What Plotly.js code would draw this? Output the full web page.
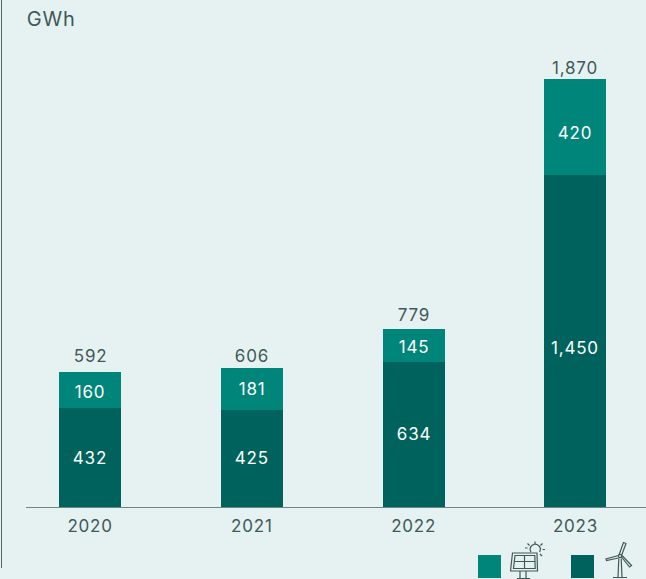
<!DOCTYPE html>
<html>
<head>
<meta charset="utf-8">
<script src="https://cdn.plot.ly/plotly-3.0.1.min.js"></script>
<style>
html,body{margin:0;padding:0;background:#E6F2F2;overflow:hidden}
#chart text{letter-spacing:.8px}
</style>
</head>
<body>
<div id="chart" style="width:646px;height:579px"></div>
<script>
// Annual generation by source, GWh
const years = ['2020', '2021', '2022', '2023'];
const wind = [432, 425, 634, 1450];
const solar = [160, 181, 145, 420];
const totals = [592, 606, 779, 1870];
const unit = 'GWh';
// Small vertical offsets (px, positive = up) for the value labels
const windNudge = [0, 0, 0, -7];
const solarNudge = [-2, 0, -2, -6];
const totalNudge = [16, 12, 14, 11];

const WIDTH = 646, HEIGHT = 579;
const COL_SOLAR = '#00857A', COL_WIND = '#00625C', COL_TEXT = '#3F5957', COL_BG = '#E6F2F2';
const FONT = 'Inter, "Noto Sans", sans-serif';
const SIZE = 17;

const solarIcon = `<svg xmlns="http://www.w3.org/2000/svg" width="50" height="40" viewBox="0 0 50 40" fill="none" stroke="#3F5957" stroke-width="1.2">
<path d="M2.5 12H27L27.5 30H0.5Z"/><path d="M5 14.5H24.8L25.2 27.5H3.5Z"/>
<path d="M4.5 20.5H25M14.5 14.5V27.5"/><path d="M10 30V37M16 30V37M7 37.5H20"/>
<path d="M21 11A5 5 0 1 1 29.5 11"/><path d="M25 0.5V3M17.5 2.5L19.5 4.5M32.5 2.5L30.5 4.5M35 8.5H32.5M15 7H17.5M32 15L30 13"/>
</svg>`;
const windIcon = `<svg xmlns="http://www.w3.org/2000/svg" width="30" height="40" viewBox="0 0 30 40" fill="none" stroke="#3F5957" stroke-width="1.2">
<circle cx="16" cy="16" r="1.6"/><path d="M15 15L19.5 2.5L22 3.5L17.5 15.5"/>
<path d="M14.5 15.5L2 19L2.5 20.5L14.5 18"/><path d="M17.5 17L25.5 27L27.5 25.5L18 15.5"/>
<path d="M14.8 18.5L14 37.5M17.2 18.5L18 37.5M9 37.5H23"/>
</svg>`;
const dataUri = s => 'data:image/svg+xml;base64,' + btoa(s);

// Page pixels to paper fractions, for furniture outside the axes
const MARGIN_L = 26, MARGIN_B = 72;
const plotW = WIDTH - MARGIN_L, plotH = HEIGHT - MARGIN_B;
const fx = x => (x - MARGIN_L) / plotW;
const fy = y => (plotH - y) / plotH;
const fmt = v => v.toLocaleString('en-US');

const swatch = (x0, color) => ({
  type: 'rect', xref: 'paper', yref: 'paper', layer: 'above',
  x0: fx(x0), x1: fx(x0 + 23), y0: fy(578), y1: fy(555),
  fillcolor: color, line: {width: 0}
});

const segment = (name, values, color) => ({
  type: 'bar', name, x: years, y: values, width: 0.383,
  marker: {color, line: {width: 0}}, hoverinfo: 'skip'
});

const traces = [segment('Wind', wind, COL_WIND), segment('Solar', solar, COL_SOLAR)];

// Annotations on a category axis are placed by category index
const insideLabels = years.flatMap((yr, i) => [
  {x: i, y: wind[i] / 2, text: fmt(wind[i]), yshift: windNudge[i]},
  {x: i, y: wind[i] + solar[i] / 2, text: fmt(solar[i]), yshift: solarNudge[i]}
]).map(a => ({...a, xref: 'x', yref: 'y', showarrow: false, xanchor: 'center', yanchor: 'middle',
  font: {family: FONT, size: SIZE, color: '#FFFFFF'}}));

const totalLabels = years.map((yr, i) => ({
  x: i, y: totals[i], xref: 'x', yref: 'y', text: fmt(totals[i]), showarrow: false,
  xanchor: 'center', yanchor: 'middle', yshift: totalNudge[i],
  font: {family: FONT, size: SIZE, color: COL_TEXT}
}));

const layout = {
  width: WIDTH, height: HEIGHT,
  margin: {l: MARGIN_L, r: 0, t: 0, b: MARGIN_B, pad: 0},
  paper_bgcolor: COL_BG, plot_bgcolor: COL_BG,
  barmode: 'stack', showlegend: false,
  font: {family: FONT, color: COL_TEXT},
  xaxis: {
    type: 'category', categoryorder: 'array', categoryarray: years,
    range: [-0.396, 3.436], showgrid: false, zeroline: false,
    showline: true, linecolor: '#6F8583', linewidth: 1,
    ticks: '', ticklen: 0, ticklabelstandoff: 4,
    tickfont: {family: FONT, size: SIZE, color: COL_TEXT}, fixedrange: true
  },
  yaxis: {range: [0, plotH / 0.2288], visible: false, fixedrange: true},
  annotations: [
    ...insideLabels,
    ...totalLabels,
    {
      text: unit, xref: 'paper', yref: 'paper', showarrow: false,
      x: fx(26), y: fy(19), xanchor: 'left', yanchor: 'middle',
      font: {family: FONT, size: 20, color: COL_TEXT}
    }
  ],
  shapes: [
    {
      type: 'line', xref: 'paper', yref: 'paper', layer: 'above',
      x0: fx(1.5), x1: fx(1.5), y0: fy(568), y1: fy(0),
      line: {color: '#4F6664', width: 1}
    },
    swatch(478, COL_SOLAR),
    swatch(571, COL_WIND)
  ],
  images: [
    {
      source: dataUri(solarIcon), xref: 'paper', yref: 'paper',
      x: fx(510), y: fy(541), sizex: 50 / plotW, sizey: 40 / plotH,
      xanchor: 'left', yanchor: 'top', sizing: 'stretch', layer: 'above'
    },
    {
      source: dataUri(windIcon), xref: 'paper', yref: 'paper',
      x: fx(604), y: fy(540), sizex: 30 / plotW, sizey: 40 / plotH,
      xanchor: 'left', yanchor: 'top', sizing: 'stretch', layer: 'above'
    }
  ]
};

Plotly.newPlot('chart', traces, layout, {displayModeBar: false, staticPlot: true});
</script>
</body>
</html>
